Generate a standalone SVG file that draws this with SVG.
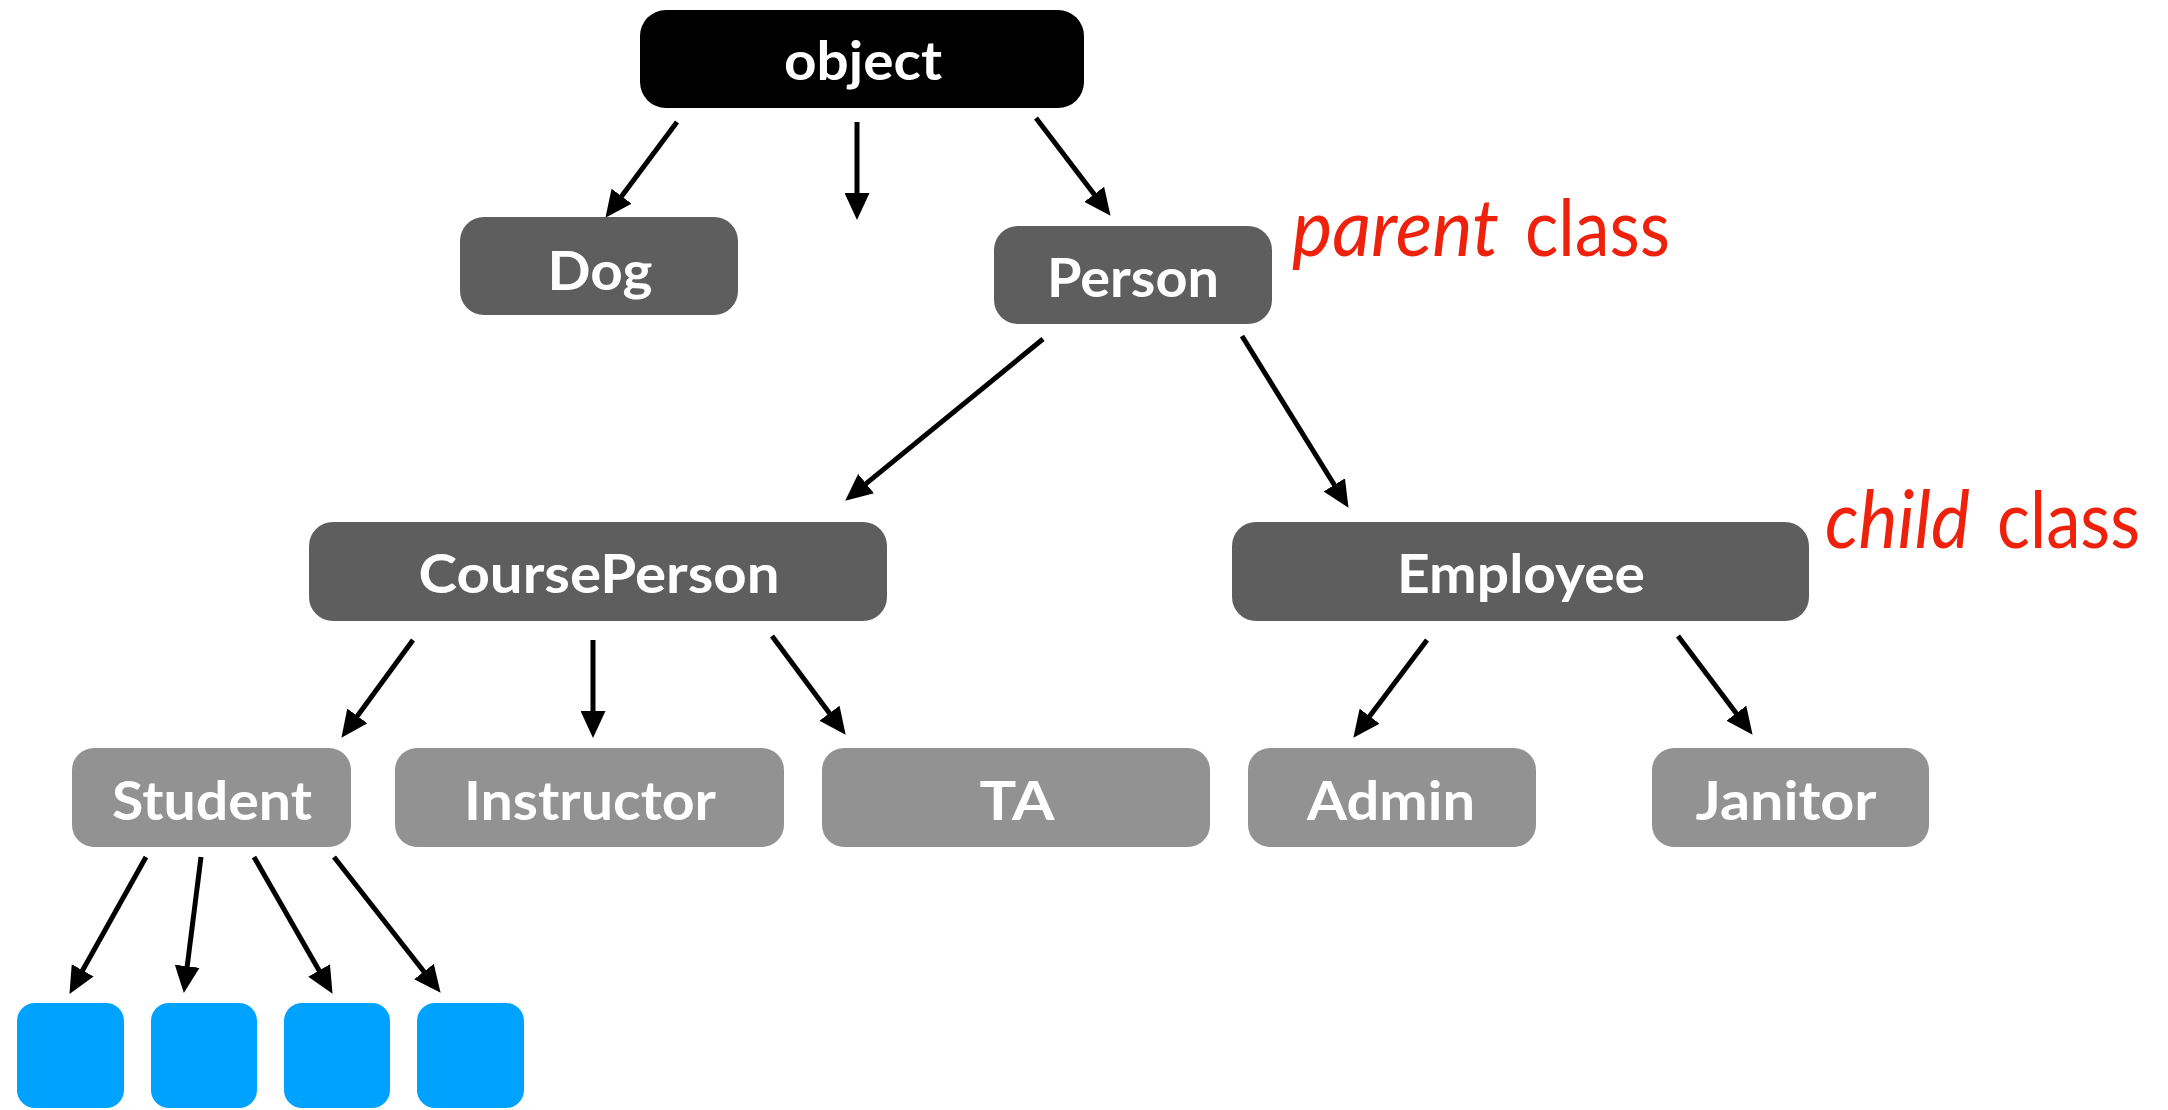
<svg xmlns="http://www.w3.org/2000/svg" width="2168" height="1110" viewBox="0 0 2168 1110">
<style>
.n0{fill:#000000}
.n1{fill:#5E5E5E}
.n2{fill:#929292}
.sq{fill:#00A2FF}
.lbl{font-family:Lato,"Liberation Sans",sans-serif;font-weight:700;font-size:53px;fill:#FFFFFF;text-anchor:middle}
.red{font-family:Lato,"Liberation Sans",sans-serif;font-size:80px;fill:#EE220C}
.edge{stroke:#000;stroke-width:5;fill:none;marker-end:url(#ah)}
</style>
<defs>
<marker id="ah" markerUnits="userSpaceOnUse" markerWidth="27" markerHeight="25" viewBox="0 0 27 25" refX="4" refY="12.5" orient="auto">
<path d="M0,0 L27,12.5 L0,25 z" fill="#000"/>
</marker>
</defs>
<g id="connectors">
<line class="edge" x1="677" y1="122" x2="619.2" y2="199.4"/>
<line class="edge" x1="857" y1="122" x2="857" y2="197"/>
<line class="edge" x1="1036" y1="118" x2="1096.6" y2="197.5"/>
<line class="edge" x1="1043" y1="339" x2="863" y2="486.1"/>
<line class="edge" x1="1242" y1="336" x2="1336.4" y2="488.3"/>
<line class="edge" x1="413" y1="640" x2="355" y2="719.2"/>
<line class="edge" x1="593" y1="640" x2="593" y2="715"/>
<line class="edge" x1="772" y1="636" x2="831.9" y2="716.4"/>
<line class="edge" x1="1427" y1="640" x2="1367.2" y2="719.4"/>
<line class="edge" x1="1678" y1="636" x2="1738.7" y2="716.4"/>
<line class="edge" x1="146" y1="857" x2="80.7" y2="973.8"/>
<line class="edge" x1="201" y1="857" x2="186.7" y2="970.2"/>
<line class="edge" x1="254" y1="857" x2="321.1" y2="973.9"/>
<line class="edge" x1="334" y1="857" x2="426.4" y2="974.7"/>
</g>
<g id="node-object"><rect class="n0" x="640" y="10" width="444" height="98" rx="26"/><text class="lbl" x="863" y="80" textLength="158" lengthAdjust="spacingAndGlyphs">object</text></g>
<g id="node-dog"><rect class="n1" x="460" y="217" width="278" height="98" rx="24"/><text class="lbl" x="600" y="290" textLength="105" lengthAdjust="spacingAndGlyphs">Dog</text></g>
<g id="node-person"><rect class="n1" x="994" y="226" width="278" height="98" rx="24"/><text class="lbl" x="1133" y="297" textLength="172" lengthAdjust="spacingAndGlyphs">Person</text></g>
<g id="node-courseperson"><rect class="n1" x="309" y="522" width="578" height="99" rx="24"/><text class="lbl" x="599" y="593" textLength="361" lengthAdjust="spacingAndGlyphs">CoursePerson</text></g>
<g id="node-employee"><rect class="n1" x="1232" y="522" width="577" height="99" rx="24"/><text class="lbl" x="1521" y="593" textLength="248" lengthAdjust="spacingAndGlyphs">Employee</text></g>
<g id="node-student"><rect class="n2" x="72" y="748" width="279" height="99" rx="22"/><text class="lbl" x="212" y="820" textLength="200" lengthAdjust="spacingAndGlyphs">Student</text></g>
<g id="node-instructor"><rect class="n2" x="395" y="748" width="389" height="99" rx="22"/><text class="lbl" x="590" y="820" textLength="252" lengthAdjust="spacingAndGlyphs">Instructor</text></g>
<g id="node-ta"><rect class="n2" x="822" y="748" width="388" height="99" rx="22"/><text class="lbl" x="1017" y="820" textLength="75" lengthAdjust="spacingAndGlyphs">TA</text></g>
<g id="node-admin"><rect class="n2" x="1248" y="748" width="288" height="99" rx="22"/><text class="lbl" x="1391" y="820" textLength="168" lengthAdjust="spacingAndGlyphs">Admin</text></g>
<g id="node-janitor"><rect class="n2" x="1652" y="748" width="277" height="99" rx="22"/><text class="lbl" x="1786" y="820" textLength="181" lengthAdjust="spacingAndGlyphs">Janitor</text></g>
<g id="node-sq1"><rect class="sq" x="17" y="1003" width="107" height="105" rx="18"/></g>
<g id="node-sq2"><rect class="sq" x="151" y="1003" width="106" height="105" rx="18"/></g>
<g id="node-sq3"><rect class="sq" x="284" y="1003" width="106" height="105" rx="18"/></g>
<g id="node-sq4"><rect class="sq" x="417" y="1003" width="107" height="105" rx="18"/></g>
<g id="label-parent"><text class="red" y="256"><tspan x="1292" font-style="italic" textLength="207" lengthAdjust="spacingAndGlyphs">parent</tspan><tspan x="1525" font-weight="400" textLength="145" lengthAdjust="spacingAndGlyphs">class</tspan></text></g>
<g id="label-child"><text class="red" y="548"><tspan x="1825" font-style="italic" textLength="145" lengthAdjust="spacingAndGlyphs">child</tspan><tspan x="1997" font-weight="400" textLength="143" lengthAdjust="spacingAndGlyphs">class</tspan></text></g>
</svg>
